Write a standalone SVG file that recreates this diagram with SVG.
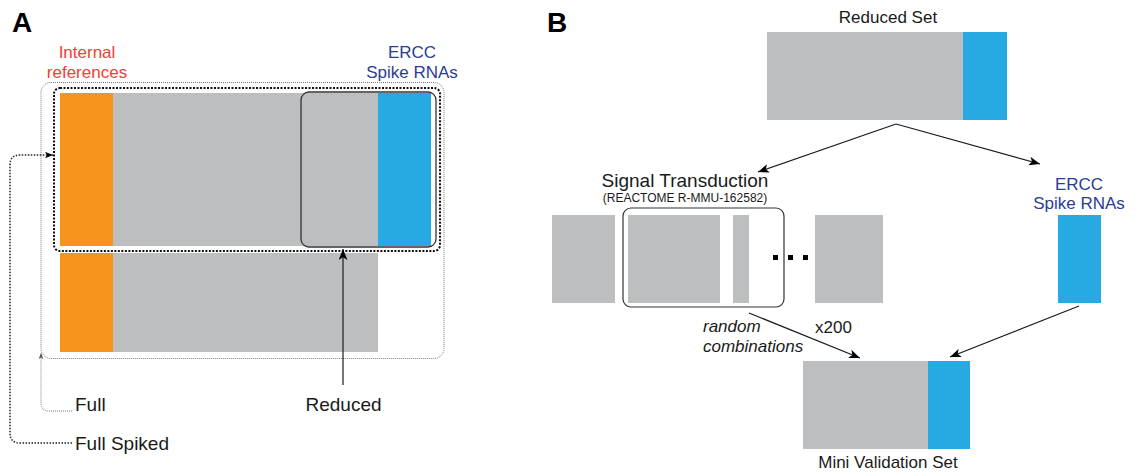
<svg xmlns="http://www.w3.org/2000/svg" width="1141" height="472" viewBox="0 0 1141 472">
<style>
text{font-family:"Liberation Sans",Arial,sans-serif;fill:#1a1a1a}
.panel{font-weight:bold;font-size:28px;fill:#000}
.lbl{font-size:19px}
.mid{font-size:17px;text-anchor:middle}
.red{fill:#ed4136}
.blue{fill:#2b3c93}
.or{fill:#f7941d}
.gr{fill:#bcbec0}
.bl{fill:#27aae1}
.conn{fill:none;stroke:#1a1a1a;stroke-width:1.2}
</style>
<defs>
<marker id="arr" viewBox="0 0 10 8" refX="10" refY="4" markerWidth="11" markerHeight="9" markerUnits="userSpaceOnUse" orient="auto">
<path d="M0,0 L10,4 L0,8 L2.5,4 z" fill="#000"/>
</marker>
<marker id="arrS" viewBox="0 0 10 8" refX="10" refY="4" markerWidth="8" markerHeight="7" markerUnits="userSpaceOnUse" orient="auto">
<path d="M0,0 L10,4 L0,8 L2.5,4 z" fill="#000"/>
</marker>
<marker id="arrG" viewBox="0 0 10 8" refX="10" refY="4" markerWidth="6" markerHeight="5" markerUnits="userSpaceOnUse" orient="auto">
<path d="M0,0 L10,4 L0,8 L2.5,4 z" fill="#555"/>
</marker>
</defs>
<rect width="1141" height="472" fill="#fff"/>

<!-- Panel A -->
<text class="panel" x="12" y="32">A</text>
<g id="label-internal">
<text class="mid red" x="87" y="58">Internal</text>
<text class="mid red" x="87" y="78">references</text>
</g>
<g id="label-ercc-a">
<text class="mid blue" x="412" y="58">ERCC</text>
<text class="mid blue" x="412" y="78">Spike RNAs</text>
</g>
<g id="full-set">
<rect x="41" y="82.5" width="403" height="276" rx="10" fill="none" stroke="#777" stroke-width="1" stroke-dasharray="1 1"/>
</g>
<g id="full-spiked-set">
<rect x="54" y="88" width="386" height="163" rx="6" fill="none" stroke="#111" stroke-width="2" stroke-dasharray="2 1.5"/>
</g>
<g id="row-top">
<rect class="or" x="60" y="93" width="53" height="153"/>
<rect class="gr" x="113" y="93" width="265" height="153"/>
<rect class="bl" x="378" y="93" width="53" height="153"/>
</g>
<g id="row-bottom">
<rect class="or" x="60" y="253" width="53" height="99"/>
<rect class="gr" x="113" y="253" width="265" height="99"/>
</g>
<g id="reduced-set">
<rect x="301" y="92" width="135" height="155" rx="8" fill="none" stroke="#333" stroke-width="1.3"/>
</g>
<g id="label-full"><text class="lbl" x="75" y="411">Full</text></g>
<g id="label-full-spiked"><text class="lbl" x="75" y="450">Full Spiked</text></g>
<g id="label-reduced"><text class="lbl" x="343.5" y="411" text-anchor="middle">Reduced</text></g>

<!-- Panel B -->
<text class="panel" x="547" y="32">B</text>
<g id="reduced-set-b">
<text class="mid" x="888" y="23">Reduced Set</text>
<rect class="gr" x="767" y="32" width="196" height="88"/>
<rect class="bl" x="963" y="32" width="44" height="88"/>
</g>
<g id="signal-transduction">
<text x="685" y="187" font-size="19" text-anchor="middle">Signal Transduction</text>
<text x="685" y="201.5" font-size="12" text-anchor="middle">(REACTOME R-MMU-162582)</text>
<rect class="gr" x="552" y="215" width="63" height="88"/>
<rect x="623" y="208" width="161" height="99" rx="8" fill="none" stroke="#333" stroke-width="1.2"/>
<rect class="gr" x="628" y="215" width="92" height="88"/>
<rect class="gr" x="733" y="215" width="16" height="88"/>
<rect x="773" y="255" width="5" height="5" fill="#000"/>
<rect x="788" y="255" width="5" height="5" fill="#000"/>
<rect x="803" y="255" width="5" height="5" fill="#000"/>
<rect class="gr" x="815" y="215" width="68" height="88"/>
</g>
<g id="ercc-b">
<text class="mid blue" x="1079" y="190">ERCC</text>
<text class="mid blue" x="1079" y="209">Spike RNAs</text>
<rect class="bl" x="1058" y="215" width="43" height="88"/>
</g>
<g id="mini-validation-set">
<rect class="gr" x="803" y="361" width="125" height="88"/>
<rect class="bl" x="928" y="361" width="42" height="88"/>
<text class="mid" x="888" y="468">Mini Validation Set</text>
</g>
<g id="label-random">
<text x="703" y="332" font-size="17" font-style="italic">random</text>
<text x="703" y="352" font-size="17" font-style="italic">combinations</text>
</g>
<g id="label-x200"><text x="815" y="333" font-size="17">x200</text></g>

<!-- Connectors -->
<g id="connectors">
<line class="conn" x1="343" y1="385" x2="343" y2="249" marker-end="url(#arr)"/>
<path d="M72,411 H49 Q41,411 41,403 V353" fill="none" stroke="#777" stroke-width="1" stroke-dasharray="1 1" marker-end="url(#arrG)"/>
<path d="M72,443 H20 Q10,443 10,433 V165 Q10,155 20,155 H53" fill="none" stroke="#222" stroke-width="1.5" stroke-dasharray="1.5 1.5" marker-end="url(#arrS)"/>
<line class="conn" x1="896" y1="124" x2="758" y2="172" marker-end="url(#arr)"/>
<line class="conn" x1="896" y1="124" x2="1040" y2="164" marker-end="url(#arr)"/>
<line class="conn" x1="749" y1="313" x2="860" y2="358" marker-end="url(#arr)"/>
<line class="conn" x1="1079" y1="306" x2="950" y2="357" marker-end="url(#arr)"/>
</g>
</svg>
